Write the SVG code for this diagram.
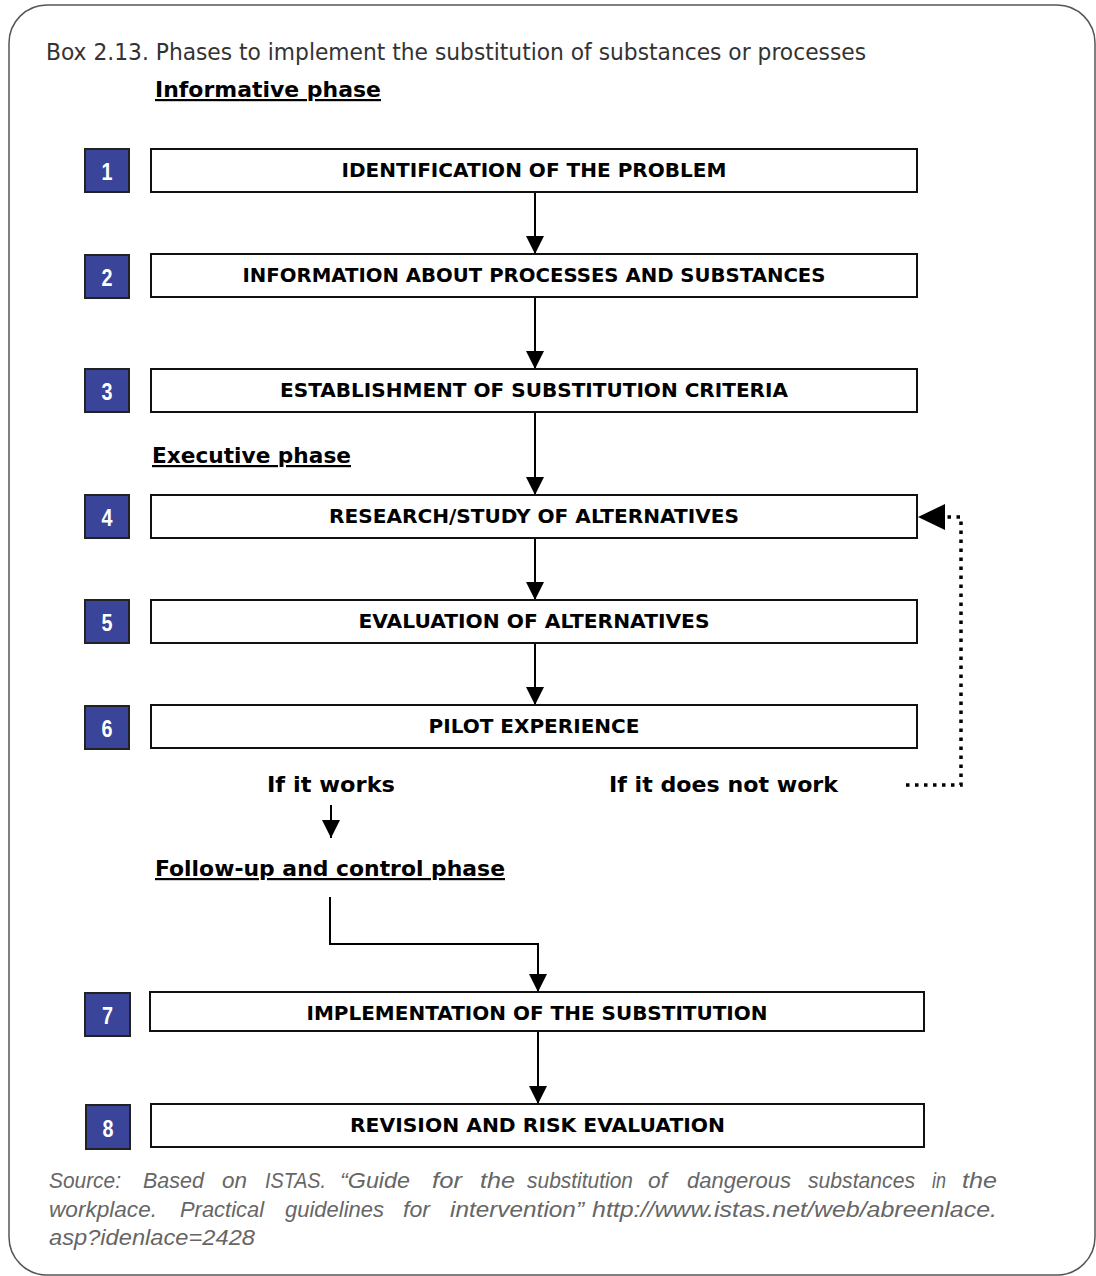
<svg xmlns="http://www.w3.org/2000/svg" width="1096" height="1276" viewBox="0 0 1096 1276">
<style>
.frame{fill:#fff;stroke:#555;stroke-width:1.5}
.nb{fill:#3a4498;stroke:#222;stroke-width:2}
.nt{fill:#fff;font-family:"Liberation Sans Narrow","Liberation Sans",sans-serif;font-weight:bold;font-size:23px;text-anchor:middle}
.box{fill:#fff;stroke:#111;stroke-width:2}
.lbl{fill:#000;font-family:"DejaVu Sans",Verdana,sans-serif;font-weight:bold;font-size:19.5px;text-anchor:middle}
.hd{fill:#000;font-family:"DejaVu Sans",Verdana,sans-serif;font-weight:bold;font-size:22px;text-decoration:underline}
.cond{fill:#000;font-family:"DejaVu Sans",Verdana,sans-serif;font-weight:bold;font-size:22px}
.title{fill:#333;font-family:"DejaVu Sans",sans-serif;font-size:23px}
.src{fill:#666;font-family:"Liberation Sans",Arial,sans-serif;font-style:italic;font-size:22px}
.ln{fill:none;stroke:#000;stroke-width:2}
.dot{fill:none;stroke:#000;stroke-width:3.5;stroke-dasharray:3.5 5.5}
</style>
<defs>
<marker id="ah" markerUnits="userSpaceOnUse" markerWidth="20" markerHeight="20" refX="18" refY="9" orient="auto">
<path d="M0,0 L18,9 L0,18 Z" fill="#000"/>
</marker>
</defs>
<rect class="frame" x="9" y="5" width="1086" height="1270" rx="38" ry="38"/>
<text class="title" x="46" y="60" textLength="820" lengthAdjust="spacingAndGlyphs">Box 2.13. Phases to implement the substitution of substances or processes</text>
<text class="hd" x="155" y="97" textLength="226" lengthAdjust="spacingAndGlyphs">Informative phase</text>
<text class="hd" x="152" y="463" textLength="199" lengthAdjust="spacingAndGlyphs">Executive phase</text>
<text class="hd" x="155" y="876" textLength="350" lengthAdjust="spacingAndGlyphs">Follow-up and control phase</text>
<text class="cond" x="267" y="792" textLength="128" lengthAdjust="spacingAndGlyphs">If it works</text>
<text class="cond" x="609" y="792" textLength="229" lengthAdjust="spacingAndGlyphs">If it does not work</text>

<g id="connectors">
<line class="ln" x1="535" y1="192" x2="535" y2="254" marker-end="url(#ah)"/>
<line class="ln" x1="535" y1="297" x2="535" y2="369" marker-end="url(#ah)"/>
<line class="ln" x1="535" y1="412" x2="535" y2="495" marker-end="url(#ah)"/>
<line class="ln" x1="535" y1="538" x2="535" y2="600" marker-end="url(#ah)"/>
<line class="ln" x1="535" y1="643" x2="535" y2="705" marker-end="url(#ah)"/>
<line class="ln" x1="331" y1="805" x2="331" y2="838" marker-end="url(#ah)"/>
<polyline class="ln" points="330,897 330,944 538,944 538,992" marker-end="url(#ah)"/>
<line class="ln" x1="538" y1="1031" x2="538" y2="1104" marker-end="url(#ah)"/>
<polyline class="dot" points="906,785 961,785 961,517 945,517"/>
<path d="M918,517 L945,504 L945,530 Z" fill="#000"/>
</g>

<g id="n1"><rect class="nb" x="85" y="149" width="44" height="43"/><text class="nt" x="107" y="180" textLength="11" lengthAdjust="spacingAndGlyphs">1</text>
<rect class="box" x="151" y="149" width="766" height="43"/><text class="lbl" x="534" y="177" textLength="385" lengthAdjust="spacingAndGlyphs">IDENTIFICATION OF THE PROBLEM</text></g>
<g id="n2"><rect class="nb" x="85" y="255" width="44" height="43"/><text class="nt" x="107" y="286" textLength="11" lengthAdjust="spacingAndGlyphs">2</text>
<rect class="box" x="151" y="254" width="766" height="43"/><text class="lbl" x="534" y="282" textLength="583" lengthAdjust="spacingAndGlyphs">INFORMATION ABOUT PROCESSES AND SUBSTANCES</text></g>
<g id="n3"><rect class="nb" x="85" y="369" width="44" height="43"/><text class="nt" x="107" y="400" textLength="11" lengthAdjust="spacingAndGlyphs">3</text>
<rect class="box" x="151" y="369" width="766" height="43"/><text class="lbl" x="534" y="397" textLength="508" lengthAdjust="spacingAndGlyphs">ESTABLISHMENT OF SUBSTITUTION CRITERIA</text></g>
<g id="n4"><rect class="nb" x="85" y="495" width="44" height="43"/><text class="nt" x="107" y="526" textLength="11" lengthAdjust="spacingAndGlyphs">4</text>
<rect class="box" x="151" y="495" width="766" height="43"/><text class="lbl" x="534" y="523" textLength="410" lengthAdjust="spacingAndGlyphs">RESEARCH/STUDY OF ALTERNATIVES</text></g>
<g id="n5"><rect class="nb" x="85" y="600" width="44" height="43"/><text class="nt" x="107" y="631" textLength="11" lengthAdjust="spacingAndGlyphs">5</text>
<rect class="box" x="151" y="600" width="766" height="43"/><text class="lbl" x="534" y="628" textLength="351" lengthAdjust="spacingAndGlyphs">EVALUATION OF ALTERNATIVES</text></g>
<g id="n6"><rect class="nb" x="85" y="706" width="44" height="43"/><text class="nt" x="107" y="737" textLength="11" lengthAdjust="spacingAndGlyphs">6</text>
<rect class="box" x="151" y="705" width="766" height="43"/><text class="lbl" x="534" y="733" textLength="211" lengthAdjust="spacingAndGlyphs">PILOT EXPERIENCE</text></g>
<g id="n7"><rect class="nb" x="85" y="993" width="45" height="43"/><text class="nt" x="107.5" y="1024" textLength="11" lengthAdjust="spacingAndGlyphs">7</text>
<rect class="box" x="150" y="992" width="774" height="39"/><text class="lbl" x="537" y="1020" textLength="461" lengthAdjust="spacingAndGlyphs">IMPLEMENTATION OF THE SUBSTITUTION</text></g>
<g id="n8"><rect class="nb" x="86" y="1105" width="44" height="44"/><text class="nt" x="108" y="1137" textLength="11" lengthAdjust="spacingAndGlyphs">8</text>
<rect class="box" x="151" y="1104" width="773" height="43"/><text class="lbl" x="537.5" y="1132" textLength="375" lengthAdjust="spacingAndGlyphs">REVISION AND RISK EVALUATION</text></g>

<g id="source" class="src">
<text x="49" y="1188" textLength="72" lengthAdjust="spacingAndGlyphs">Source:</text><text x="143" y="1188" textLength="61" lengthAdjust="spacingAndGlyphs">Based</text><text x="222" y="1188" textLength="25" lengthAdjust="spacingAndGlyphs">on</text><text x="265" y="1188" textLength="61" lengthAdjust="spacingAndGlyphs">ISTAS.</text><text x="340" y="1188" textLength="70" lengthAdjust="spacingAndGlyphs">“Guide</text><text x="432" y="1188" textLength="30" lengthAdjust="spacingAndGlyphs">for</text><text x="480" y="1188" textLength="35" lengthAdjust="spacingAndGlyphs">the</text><text x="527" y="1188" textLength="106" lengthAdjust="spacingAndGlyphs">substitution</text><text x="648" y="1188" textLength="19" lengthAdjust="spacingAndGlyphs">of</text><text x="687" y="1188" textLength="104" lengthAdjust="spacingAndGlyphs">dangerous</text><text x="808" y="1188" textLength="107" lengthAdjust="spacingAndGlyphs">substances</text><text x="932" y="1188" textLength="14" lengthAdjust="spacingAndGlyphs">in</text><text x="962" y="1188" textLength="35" lengthAdjust="spacingAndGlyphs">the</text>
<text x="49" y="1217" textLength="108" lengthAdjust="spacingAndGlyphs">workplace.</text><text x="180" y="1217" textLength="84" lengthAdjust="spacingAndGlyphs">Practical</text><text x="285" y="1217" textLength="99" lengthAdjust="spacingAndGlyphs">guidelines</text><text x="403" y="1217" textLength="27" lengthAdjust="spacingAndGlyphs">for</text><text x="450" y="1217" textLength="134" lengthAdjust="spacingAndGlyphs">intervention”</text><text x="592" y="1217" textLength="405" lengthAdjust="spacingAndGlyphs">http://www.istas.net/web/abreenlace.</text>
<text x="49" y="1245" textLength="206" lengthAdjust="spacingAndGlyphs">asp?idenlace=2428</text>
</g>
</svg>
